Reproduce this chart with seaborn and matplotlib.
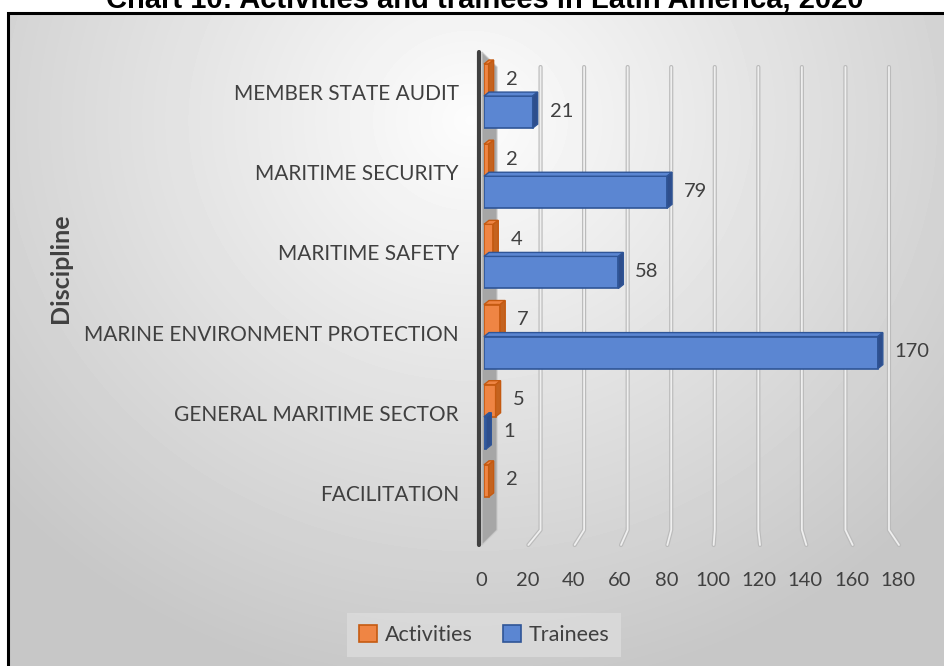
import numpy as np
import pandas as pd
import matplotlib
matplotlib.use('Agg')
import matplotlib.pyplot as plt
import seaborn as sns
from matplotlib.patches import Polygon, Rectangle, Patch
from matplotlib.lines import Line2D
from matplotlib.transforms import IdentityTransform, ScaledTranslation

disciplines = ['MEMBER STATE AUDIT', 'MARITIME SECURITY', 'MARITIME SAFETY',
               'MARINE ENVIRONMENT PROTECTION', 'GENERAL MARITIME SECTOR', 'FACILITATION']
activities = [2, 2, 4, 7, 5, 2]
trainees = [21, 79, 58, 170, 1, 0]
series = ['Activities', 'Trainees']
xticks = list(range(0, 181, 20))
title = 'Chart 10: Activities and trainees in Latin America, 2020'

df = pd.DataFrame({'Discipline': disciplines * 2,
                   'Series': [series[0]] * len(activities) + [series[1]] * len(trainees),
                   'Value': activities + trainees})

face = {'Activities': '#EF8544', 'Trainees': '#5B86D2'}
edge = {'Activities': '#C55A11', 'Trainees': '#2F5597'}
side = {'Activities': '#C4631F', 'Trainees': '#2E4E8C'}
txt = '#404040'

sns.set_theme(style='white')
plt.rcParams['font.family'] = ['Lato', 'DejaVu Sans']

W, H = 944, 666
fig = plt.figure(figsize=(W / 100, H / 100), dpi=100)

# background gradient inside the chart frame
bg = fig.add_axes([0, 0, 1, 1], zorder=0)
yy, xx = np.mgrid[0:H, 0:W]
r = np.sqrt(((xx - 470) / 650.0) ** 2 + ((yy - 120) / 600.0) ** 2)
shade = np.clip(0.99 - 0.22 * r, 0.78, 1.0)
shade[(xx < 8) | (yy < 13)] = 1.0
bg.imshow(shade, cmap='gray', vmin=0, vmax=1, extent=[0, W, H, 0], aspect='auto',
          interpolation='bilinear')
bg.set_axis_off()

fig.add_artist(Rectangle((8 / W, -0.05), 1.1, 1 - 13 / H + 0.05, fill=False,
                         lw=2.2, ec='black', transform=fig.transFigure, zorder=1))

fig.text(485 / W, 1 - 8 / H, title, ha='center', va='baseline', fontsize=21,
         fontweight='bold', family=['Liberation Sans', 'DejaVu Sans'], color='black')

ax = fig.add_axes([484 / W, 1 - 537 / H, (901 - 484) / W, 481 / H], zorder=2)
ax.patch.set_alpha(0)

sns.barplot(data=df, y='Discipline', x='Value', hue='Series', order=disciplines,
            hue_order=series, palette=[face[s] for s in series], saturation=1,
            width=0.8, ax=ax, legend=False, zorder=5)

ax.set_xlim(0, 180)
ax.set_ylim(len(disciplines) - 0.5, -0.5)
ax.set_xticks(xticks)
ax.set_xlabel('')
ax.set_ylabel('')
for s in ax.spines.values():
    s.set_visible(False)
ax.tick_params(axis='x', length=0, pad=25, labelsize=14.5, labelcolor=txt)
ax.tick_params(axis='y', length=0, pad=18, labelsize=15, labelcolor=txt)
shift = ScaledTranslation(0, 4 / 100, fig.dpi_scale_trans)
for lab in ax.get_yticklabels():
    lab.set_transform(lab.get_transform() + shift)
shift_x = ScaledTranslation(-3 / 100, 0, fig.dpi_scale_trans)
for lab in ax.get_xticklabels():
    lab.set_transform(lab.get_transform() + shift_x)

fig.canvas.draw()
tD = ax.transData
x0d = tD.transform((0, 0))[0]
ident = IdentityTransform()

# back-plane grid lines with slanted feet
for t in xticks[1:]:
    fx = tD.transform((t, 0))[0]
    bx = x0d + 13 + (fx - x0d) * 0.94
    pts = [(bx, H - 67), (bx, H - 530), (fx - 2, H - 545)]
    for lw, c in [(3.0, '#BBBBBB'), (1.3, '#EFEFEF')]:
        fig.add_artist(Line2D([p[0] for p in pts], [p[1] for p in pts], lw=lw, color=c,
                              transform=ident, zorder=1.5, solid_capstyle='round'))

# side wall at zero
wall = [(x0d - 2, H - 52), (x0d + 13, H - 67), (x0d + 13, H - 530), (x0d - 2, H - 545)]
fig.add_artist(Polygon(wall, closed=True, fc='#A6A6A6', ec='#C8C8C8', lw=0.8,
                       transform=ident, zorder=1.6))
fig.add_artist(Line2D([x0d - 4.5, x0d - 4.5], [H - 52, H - 545], lw=3, color='#404040',
                      transform=ident, zorder=1.7, solid_capstyle='round'))

# 3D look for bars and value labels
dx, dy = 5, 4
for cont, s in zip(ax.containers, series):
    for bar in cont:
        bar.set_edgecolor(edge[s])
        bar.set_linewidth(1.2)
        w = bar.get_width()
        if w <= 0:
            bar.set_visible(False)
            continue
        (xa, ya), (xb, yb) = tD.transform([(bar.get_x(), bar.get_y()),
                                           (bar.get_x() + w, bar.get_y() + bar.get_height())])
        ylo, yhi = min(ya, yb), max(ya, yb)
        top = [(xa, yhi), (xa + dx, yhi + dy), (xb + dx, yhi + dy), (xb, yhi)]
        rside = [(xb, yhi), (xb + dx, yhi + dy), (xb + dx, ylo + dy), (xb, ylo)]
        fig.add_artist(Polygon(top, closed=True, fc=face[s], ec=edge[s], lw=1.0,
                               transform=ident, zorder=2.5))
        fig.add_artist(Polygon(rside, closed=True, fc=side[s], ec=edge[s], lw=1.0,
                               transform=ident, zorder=2.5))
        fig.text((xb + dx + 12) / W, ((ylo + yhi) / 2 + 1) / H, f'{w:g}', ha='left',
                 va='center', fontsize=14.5, color=txt, zorder=6)

fig.text(60 / W, 1 - 268 / H, 'Discipline', rotation=90, ha='center', va='center',
         fontsize=18, fontweight='bold', color=txt)

handles = [Patch(facecolor=face[s], edgecolor=edge[s], lw=1.2, label=s) for s in series]
fig.legend(handles=handles, loc='center', bbox_to_anchor=(484 / W, 1 - 635 / H), ncol=2,
           frameon=True, facecolor='#DCDCDC', edgecolor='none', fancybox=False,
           framealpha=0.8, fontsize=15.5, labelcolor=txt, handlelength=0.85,
           handleheight=0.85, handletextpad=0.35, columnspacing=1.4, borderpad=0.55,
           borderaxespad=0)

fig.savefig('out.png', dpi=100)
